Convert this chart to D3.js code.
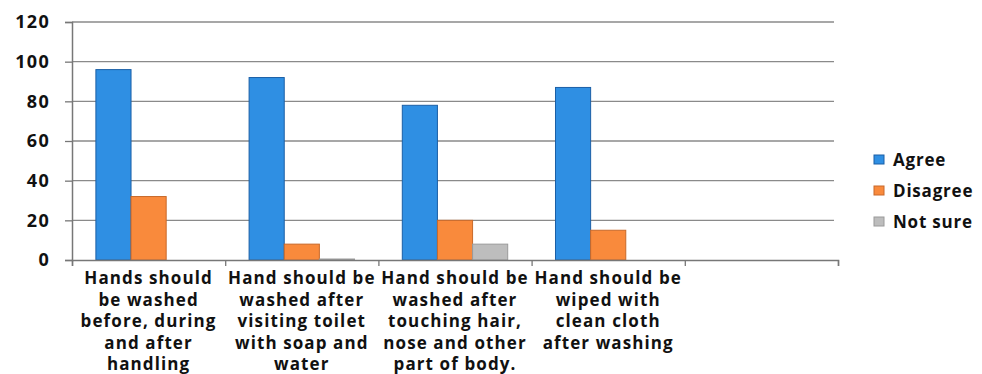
<!DOCTYPE html>
<html>
<head>
<meta charset="utf-8">
<script src="https://cdnjs.cloudflare.com/ajax/libs/d3/7.8.5/d3.min.js"></script>
<style>
  body { margin: 0; background: #fff; }
  text { font-family: "Open Sans", sans-serif; font-weight: bold; fill: #111; }
</style>
</head>
<body>
<script>
// data
const categories = [
  ["Hands should", "be washed", "before, during", "and after", "handling"],
  ["Hand should be", "washed after", "visiting toilet", "with soap and", "water"],
  ["Hand should be", "washed after", "touching hair,", "nose and other", "part of body."],
  ["Hand should be", "wiped with", "clean cloth", "after washing"],
  []
]
const seriesNames = ["Agree", "Disagree", "Not sure"]
const agree = [96, 92, 78, 87, null]
const disagree = [32, 8, 20, 15, null]
const notSure = [0, 0.5, 8, 0, null]
const yTicks = [0, 20, 40, 60, 80, 100, 120]

const colors = ["#2f8fe3", "#f98a3c", "#bdbdbd"]
const strokes = ["#1b5fa6", "#c8692a", "#9a9a9a"]

const w = 982
const h = 374
const plotLeft = 72, plotRight = 838, plotTop = 22, plotBottom = 260

const svgarea = d3.select("body")
  .append("svg")
  .attr("width", w)
  .attr("height", h)

const xscale = d3.scaleBand()
  .domain(d3.range(categories.length))
  .range([plotLeft, plotRight])
  .paddingInner(0)

const inner = d3.scaleBand()
  .domain(d3.range(3))
  .range([0, xscale.bandwidth()])
  .paddingInner(0)
  .paddingOuter(0.68)

const yscale = d3.scaleLinear()
  .domain([0, 120])
  .range([plotBottom, plotTop])

// gridlines
svgarea.append("g")
  .selectAll("line")
  .data(yTicks.slice(1))
  .enter()
  .append("line")
  .attr("x1", plotLeft)
  .attr("x2", plotRight - 4)
  .attr("y1", d => yscale(d))
  .attr("y2", d => yscale(d))
  .attr("stroke", "#8a8a8a")
  .attr("stroke-width", 1.3)

// bars
const allSeries = [agree, disagree, notSure]
allSeries.forEach((vals, s) => {
  svgarea.append("g")
    .selectAll("rect")
    .data(vals.map((v, i) => ({ v: v, i: i })).filter(d => d.v != null))
    .enter()
    .append("rect")
    .attr("x", d => xscale(d.i) + inner(s))
    .attr("y", d => yscale(d.v))
    .attr("width", inner.bandwidth())
    .attr("height", d => plotBottom - yscale(d.v))
    .attr("fill", colors[s])
    .attr("stroke", strokes[s])
    .attr("stroke-width", 1)
})

// y axis
const yAxis = d3.axisLeft(yscale).tickValues(yTicks).tickSize(7).tickPadding(15)
const yg = svgarea.append("g")
  .attr("transform", "translate(" + plotLeft + ",0)")
  .call(yAxis)
yg.select(".domain").attr("stroke", "#777").attr("stroke-width", 1.5)
yg.selectAll(".tick line").attr("stroke", "#777").attr("stroke-width", 1.3)
yg.selectAll(".tick text")
  .style("font-size", "18px")
  .style("letter-spacing", "1.3px")
  .attr("fill", "#111")

// x axis
const xAxis = d3.axisBottom(d3.scaleLinear().domain([0, categories.length]).range([plotLeft, plotRight]))
  .tickValues(d3.range(categories.length + 1))
  .tickSize(6)
  .tickFormat("")
const xg = svgarea.append("g")
  .attr("transform", "translate(0," + plotBottom + ")")
  .call(xAxis)
xg.select(".domain").attr("stroke", "#777").attr("stroke-width", 1.5)
xg.selectAll(".tick line").attr("stroke", "#777").attr("stroke-width", 1.3)

// category labels
categories.forEach((lines, i) => {
  const t = svgarea.append("text")
    .attr("text-anchor", "middle")
    .attr("x", xscale(i) + xscale.bandwidth() / 2)
    .attr("y", 284)
    .style("font-size", "17px")
    .style("letter-spacing", "1.1px")
  t.selectAll("tspan")
    .data(lines)
    .enter()
    .append("tspan")
    .attr("x", xscale(i) + xscale.bandwidth() / 2)
    .attr("dy", (d, k) => k == 0 ? 0 : 21.5)
    .text(d => d)
})

// legend
const legend = svgarea.append("g")
  .attr("transform", "translate(874,160)")
seriesNames.forEach((name, s) => {
  legend.append("rect")
    .attr("x", 0)
    .attr("y", s * 31 - 5)
    .attr("width", 10)
    .attr("height", 9)
    .attr("fill", colors[s])
    .attr("stroke", strokes[s])
  legend.append("text")
    .attr("x", 19)
    .attr("y", s * 31)
    .attr("dy", "0.35em")
    .style("font-size", "17px")
    .style("letter-spacing", "0.8px")
    .text(name)
})
</script>
</body>
</html>
